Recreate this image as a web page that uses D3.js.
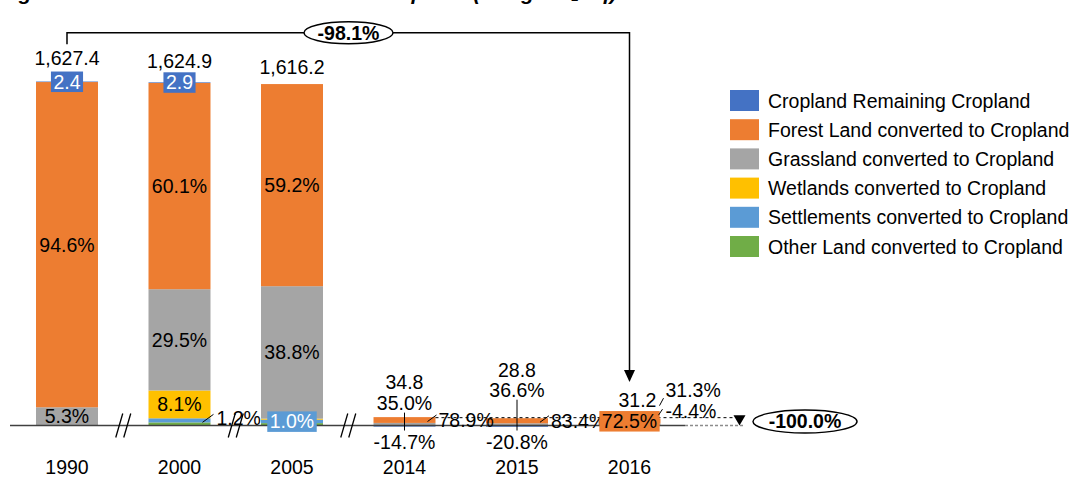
<!DOCTYPE html>
<html>
<head>
<meta charset="utf-8">
<script src="https://cdn.jsdelivr.net/npm/d3@7"></script>
<style>
  html, body { margin: 0; padding: 0; background: #fff; }
  svg { display: block; font-family: "Liberation Sans", Arial, sans-serif; }
</style>
</head>
<body>
<svg id="chart" width="1074" height="477"></svg>
<script>
// Cropland emissions by land-use category (Gg CO2 eq) and share of each year's net total
const years = ["1990", "2000", "2005", "2014", "2015", "2016"];
const totals = [1627.4, 1624.9, 1616.2, 34.8, 28.8, 31.2];
const remainingPct = [0.15, 0.18, 0, -14.7, -20.8, -4.4];
const forestPct = [94.6, 60.1, 59.2, 78.9, 83.4, 72.5];
const grasslandPct = [5.3, 29.5, 38.8, 35.0, 36.6, 31.3];
const wetlandsPct = [0, 8.1, 0.3, 0, 0, 0];
const settlementsPct = [0, 1.2, 1.0, 0, 0, 0];
const otherPct = [0, 0.9, 0.7, 0, 0, 0];
const outlookChangePct = -100.0;

const seriesNames = [
  "Cropland Remaining Cropland",
  "Forest Land converted to Cropland",
  "Grassland converted to Cropland",
  "Wetlands converted to Cropland",
  "Settlements converted to Cropland",
  "Other Land converted to Cropland"
];
const seriesColors = ["#4472C4", "#ED7D31", "#A5A5A5", "#FFC000", "#5B9BD5", "#70AD47"];
const seriesPct = [remainingPct, forestPct, grasslandPct, wetlandsPct, settlementsPct, otherPct];
// stacking order from the zero line upwards
const stackOrder = [5, 4, 3, 2, 1, 0];

const svg = d3.select("#chart");
const FS = 19.5;

const x = d3.scaleBand().domain(years).range([36, 660.5]).paddingInner(0.449).paddingOuter(0);
const y = d3.scaleLinear().domain([0, 1700]).range([425.5, 66.36]);
const bw = x.bandwidth();
const cx = yr => x(yr) + bw / 2;

// title (runs off the top edge)
svg.append("text").attr("x", 0).attr("y", -0.5)
  .attr("font-size", 21).attr("font-weight", "bold").attr("font-style", "italic")
  .text("Figure 6-3: Trends of emissions from Cropland (in Gg CO₂ eq)");

// build stacked segments
const segs = [];
const tops = [];
years.forEach((yr, i) => {
  let pos = 0, neg = 0;
  const yearSegs = {};
  stackOrder.forEach(s => {
    const v = totals[i] * seriesPct[s][i] / 100;
    if (!v) return;
    let y0, y1;
    if (v > 0) { y0 = pos; y1 = pos + v; pos = y1; }
    else { y0 = neg; y1 = neg + v; neg = y1; }
    const seg = { yr, i, s, v, y0, y1 };
    segs.push(seg);
    yearSegs[s] = seg;
  });
  tops.push({ pos, neg, segs: yearSegs });
});

svg.append("g").selectAll("rect").data(segs).join("rect")
  .attr("x", d => x(d.yr))
  .attr("width", bw)
  .attr("y", d => y(Math.max(d.y0, d.y1)))
  .attr("height", d => Math.abs(y(d.y0) - y(d.y1)))
  .attr("fill", d => seriesColors[d.s]);

// zero line and its dashed extension
const y0 = y(0);
svg.append("line").attr("x1", 10).attr("x2", 685).attr("y1", y0).attr("y2", y0)
  .attr("stroke", "#404040").attr("stroke-width", 1.6);
svg.append("line").attr("x1", 685).attr("x2", 743).attr("y1", y0).attr("y2", y0)
  .attr("stroke", "#8c8c8c").attr("stroke-width", 1.3).attr("stroke-dasharray", "3,2");

// category axis (labels only)
const axis = svg.append("g").attr("transform", `translate(0,${y0})`)
  .call(d3.axisBottom(x).tickSizeInner(0).tickSizeOuter(0).tickPadding(35));
axis.select(".domain").remove();
axis.selectAll("text").attr("font-size", FS).attr("font-family", "Liberation Sans, Arial, sans-serif").attr("fill", "#000");

// axis breaks between non-consecutive years
for (let i = 0; i < 3; i++) {
  const mx = (cx(years[i]) + cx(years[i + 1])) / 2;
  [-4, 4].forEach(o => {
    svg.append("line")
      .attr("x1", mx + o - 3.5).attr("y1", y0 + 12)
      .attr("x2", mx + o + 3.5).attr("y2", y0 - 12)
      .attr("stroke", "#000").attr("stroke-width", 1.3);
  });
}

// helpers
const fmt1 = d3.format(",.1f");
const pctFmt = v => d3.format(".1f")(v).replace("\u2212", "-") + "%";
function label(xp, yp, str, opt = {}) {
  return svg.append("text").attr("x", xp).attr("y", yp)
    .attr("text-anchor", opt.anchor || "middle")
    .attr("font-size", opt.size || FS)
    .attr("font-weight", opt.bold ? "bold" : null)
    .attr("fill", opt.fill || "#000")
    .text(str);
}
function boxLabel(xc, yc, str, fill, textFill) {
  const t = label(xc, yc + FS * 0.36, str, { fill: textFill });
  const w = t.node().getComputedTextLength() + 5;
  svg.insert("rect", () => t.node())
    .attr("x", xc - w / 2).attr("y", yc - 10).attr("width", w).attr("height", 20.5)
    .attr("fill", fill);
}
function leader(x1, y1, x2, y2) {
  svg.append("line").attr("x1", x1).attr("y1", y1).attr("x2", x2).attr("y2", y2)
    .attr("stroke", "#000").attr("stroke-width", 1);
}
const mid = seg => y((seg.y0 + seg.y1) / 2);

// dashed level line from the recent bars out to the outlook marker
const lastTop = y(tops[5].pos);
svg.append("line").attr("x1", x("2014") + bw).attr("x2", 733).attr("y1", lastTop - 1).attr("y2", lastTop - 1)
  .attr("stroke", "#000").attr("stroke-width", 1).attr("stroke-dasharray", "3,3");
svg.append("path")
  .attr("d", `M733.5,${lastTop - 3.5} L745.5,${lastTop - 3.5} L739.5,${y0} Z`)
  .attr("fill", "#000");

// 1990, 2000, 2005 labels
const totalOffsets = [-17, -14, -10];
[0, 1, 2].forEach(i => {
  const yr = years[i], c = cx(yr), t = tops[i];
  label(c, y(t.pos) + totalOffsets[i], fmt1(totals[i]));
  label(c, mid(t.segs[1]) + 7, pctFmt(forestPct[i]));
  label(c, mid(t.segs[2]) + 7, pctFmt(grasslandPct[i]));
  if (t.segs[0]) boxLabel(c, y(t.pos), fmt1(t.segs[0].v), seriesColors[0], "#fff");
});
// 2000 wetlands and settlements
{
  const t = tops[1], c = cx("2000");
  label(c, mid(t.segs[3]) + 7, pctFmt(wetlandsPct[1]));
  const sm = mid(t.segs[4]);
  leader(x("2000") + bw - 8, sm + 2, x("2000") + bw + 3, sm - 6);
  label(x("2000") + bw + 6, sm + 5, pctFmt(settlementsPct[1]), { anchor: "start" });
}
// 2005 settlements
boxLabel(cx("2005"), mid(tops[2].segs[4]), pctFmt(settlementsPct[2]), seriesColors[4], "#fff");

// 2014 and 2015 labels
const recentTotalOff = [-28, -41];
const recentGrassOff = [-7, -21];
[3, 4].forEach((i, k) => {
  const yr = years[i], c = cx(yr), t = tops[i];
  const top = y(t.pos);
  label(c, top + recentTotalOff[k], fmt1(totals[i]));
  label(c, top + recentGrassOff[k], pctFmt(grasslandPct[i]));
  // vertical leader through the thin segments
  leader(c, top + recentGrassOff[k] + 2.5, c, y0 + 5);
  label(c, y0 + 23, pctFmt(remainingPct[i]));
  const fm = mid(t.segs[1]);
  leader(x(yr) + bw - 8, fm + 1.5, x(yr) + bw + 1, fm - 5);
  label(x(yr) + bw + 3, fm + 7, pctFmt(forestPct[i]), { anchor: "start" });
});

// 2016 labels
{
  const yr = "2016", c = cx(yr), t = tops[5], right = x(yr) + bw;
  const top = y(t.pos);
  label(c + 8, top - 11.5, fmt1(totals[5]));
  boxLabel(c, mid(t.segs[1]), pctFmt(forestPct[5]), seriesColors[1], "#000");
  leader(right - 1, top - 13, right + 3, top - 20.5);
  label(right + 5, top - 21.5, pctFmt(grasslandPct[5]), { anchor: "start" });
  leader(right - 2, top - 3.5, right + 2, top - 9.5);
  label(right + 5, top - 0.5, pctFmt(remainingPct[5]), { anchor: "start" });
}

// change 1990 -> 2016 bracket
const yb = 32.7;
const xa = cx("1990"), xz = cx("2016");
svg.append("path")
  .attr("d", `M${xa},${yb + 11.5} V${yb} H${xz} V370`)
  .attr("fill", "none").attr("stroke", "#000").attr("stroke-width", 1.5);
svg.append("path").attr("d", `M${xz - 5.5},370 L${xz + 5.5},370 L${xz},382 Z`).attr("fill", "#000");
const change = (totals[5] / totals[0] - 1) * 100;
svg.append("ellipse").attr("cx", 348.5).attr("cy", yb).attr("rx", 44.5).attr("ry", 11)
  .attr("fill", "#fff").attr("stroke", "#000").attr("stroke-width", 1.5);
label(348.5, yb + 6.8, pctFmt(change), { bold: true });

// outlook change marker
svg.append("ellipse").attr("cx", 805).attr("cy", 421.5).attr("rx", 52).attr("ry", 11.5)
  .attr("fill", "#fff").attr("stroke", "#000").attr("stroke-width", 1.5);
label(805, 428.3, pctFmt(outlookChangePct), { bold: true });

// legend
const legend = svg.append("g").selectAll("g").data(seriesNames).join("g")
  .attr("transform", (d, i) => `translate(730,${100.5 + i * 29.2})`);
legend.append("rect").attr("x", 0).attr("y", -10.5).attr("width", 29).attr("height", 21)
  .attr("fill", (d, i) => seriesColors[i]);
legend.append("text").attr("x", 38).attr("y", 7).attr("font-size", FS).attr("fill", "#000")
  .text(d => d);
</script>
</body>
</html>
